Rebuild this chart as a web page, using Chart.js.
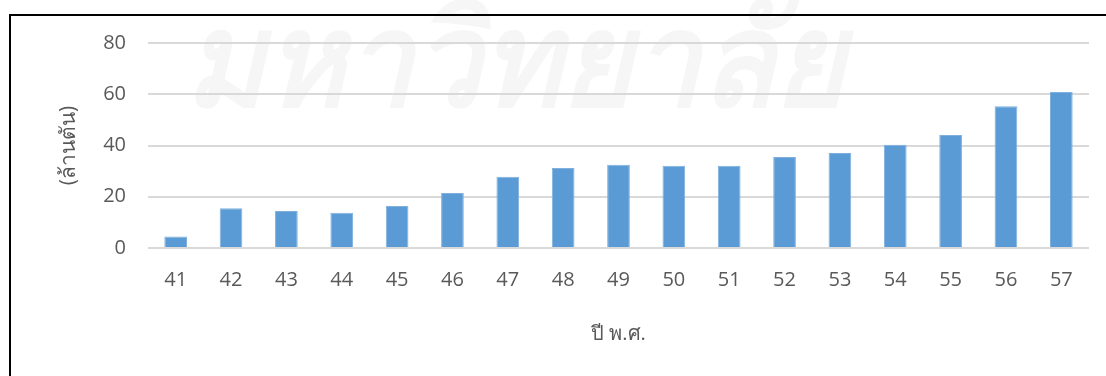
<!DOCTYPE html>
<html>
<head>
<meta charset="utf-8">
<script src="https://cdn.jsdelivr.net/npm/chart.js@4.4.1/dist/chart.umd.min.js"></script>
<style>
  html, body { margin: 0; padding: 0; background: #fff; overflow: hidden; }
  #wrap { position: relative; width: 1106px; height: 376px; }
  #frame { position: absolute; left: 9px; top: 14px; width: 1200px; height: 500px; border: 2px solid #000; box-sizing: border-box; pointer-events: none; }
</style>
</head>
<body>
<div id="wrap">
  <canvas id="myChart" width="1106" height="376"></canvas>
  <div id="frame"></div>
</div>
<script>
var years = ['41', '42', '43', '44', '45', '46', '47', '48', '49', '50', '51', '52', '53', '54', '55', '56', '57'];
var amounts = [4.5, 15.5, 14.4, 13.8, 16.4, 21.5, 27.8, 31.2, 32.5, 32.1, 32.1, 35.5, 37.1, 40.3, 44.1, 55.3, 60.9];
var yTicks = [0, 20, 40, 60, 80];
var xTitle = 'ปี พ.ศ.';
var yTitle = '(ล้านตัน)';
var watermarkText = 'มหาวิทยาลัย';

var FONT = "'Open Sans', 'Noto Sans', sans-serif";
var TEXT_COLOR = '#595959';

// faint watermark behind the chart
var watermark = {
    id: 'watermark',
    beforeDraw: function(chart){
        var c = chart.ctx;
        c.save();
        c.fillStyle = 'rgba(0,0,0,0.035)';
        c.font = "italic bold 132px 'Noto Sans', sans-serif";
        c.textBaseline = 'alphabetic';
        c.fillText(watermarkText, 185, 106, 660);
        c.restore();
    }
};

var ctx = document.getElementById('myChart').getContext('2d');

var myBarChart = new Chart(ctx, {
    type: 'bar',
    data: {
        labels: years,
        datasets: [{
            data: amounts,
            backgroundColor: '#5B9BD5',
            borderColor: '#7FB0DE',
            borderWidth: 1,
            categoryPercentage: 1,
            barPercentage: 0.41
        }]
    },
    options: {
        responsive: false,
        animation: false,
        layout: { padding: { top: 43, right: 17, left: 52, bottom: 26 } },
        plugins: {
            legend: { display: false },
            tooltip: { enabled: false }
        },
        scales: {
            x: {
                grid: { display: false },
                border: { display: false },
                ticks: { color: TEXT_COLOR, font: { family: FONT, size: 20 }, padding: 12 },
                title: { display: true, text: xTitle, color: TEXT_COLOR, font: { family: FONT, size: 20 } },
                afterFit: function(scale){ scale.height = 102; }
            },
            y: {
                min: 0,
                max: 80,
                afterBuildTicks: function(scale){
                    scale.ticks = yTicks.map(function(v){ return { value: v }; });
                },
                grid: { color: '#d9d9d9', lineWidth: 2, drawTicks: false },
                border: { display: false },
                ticks: { color: TEXT_COLOR, font: { family: FONT, size: 20 }, padding: 22 },
                title: { display: true, text: yTitle, color: TEXT_COLOR, font: { family: FONT, size: 21 }, padding: { bottom: 12 } },
                afterFit: function(scale){ scale.width = 96; }
            }
        }
    },
    plugins: [watermark]
});
</script>
</body>
</html>
